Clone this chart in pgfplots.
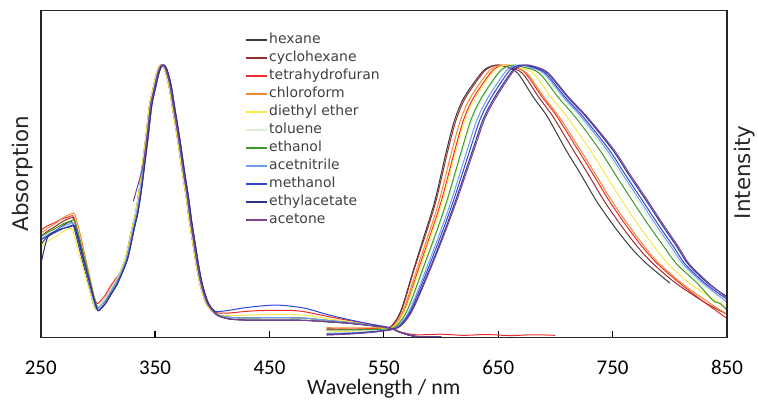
\documentclass[border=0pt]{standalone}
\usepackage{pgfplots}
\pgfplotsset{compat=1.18}
\usepackage{fontspec}
\setmainfont{DejaVu Sans}
\newfontfamily\calib{Carlito}
\definecolor{hexcol}{HTML}{3B3B3B}
\definecolor{cyccol}{HTML}{9A2E2E}
\definecolor{thfcol}{HTML}{EE2A2A}
\definecolor{chlcol}{HTML}{F2892E}
\definecolor{ethcol}{HTML}{F7E94A}
\definecolor{tolcol}{HTML}{DDEFD4}
\definecolor{etohcol}{HTML}{3F9A2E}
\definecolor{mecncol}{HTML}{6E9CF2}
\definecolor{meohcol}{HTML}{2F45DA}
\definecolor{etoaccol}{HTML}{30308E}
\definecolor{acetcol}{HTML}{7A4290}

\begin{document}
\begin{tikzpicture}
\useasboundingbox (-40.7bp,-72.5bp) rectangle (717.3bp,337.5bp);
\begin{axis}[
  scale only axis, width=686.3bp, height=327bp,
  xmin=250, xmax=850, ymin=0, ymax=1.2,
  xtick={250,350,450,550,650,750,850}, ytick=\empty,
  xtick pos=bottom, tick align=inside, major tick length=6bp,
  axis line style={draw=none},
  tick style={line width=1.2bp, black},
  /pgf/number format/assume math mode=true,
  xticklabel style={font=\calib\fontsize{21}{21}\selectfont, inner sep=0pt, yshift=-23bp},
  every axis plot/.append style={line width=1.0bp, smooth},
  legend style={at={(0.2977,0.936)}, anchor=north west, draw=none, fill=none,
    inner sep=0pt, font=\fontsize{14}{16}\selectfont, text=black!75,
    row sep=1.5bp, column sep=0bp,
    nodes={inner sep=1.5bp, text height=10.5bp, text depth=3bp}},
  legend cell align=left,
  legend image code/.code={\draw[#1, line width=1.5bp] (0bp,0bp) -- (21bp,0bp);},
]
% ---- hexane
\addplot[hexcol, forget plot] coordinates {
(250,.340)(255,.366)(261,.383)(267,.404)(273,.420)(277,.425)(279,.405)(283,.340)(287,.273)(291,.207)(295,.140)(298,.105)(301,.113)(305,.133)(310,.168)(315,.203)
(320,.245)(324,.29)(327,.345)(330,.405)(333,.46)(336,.54)(339,.64)(342,.74)(345,.85)(348,.91)(351,.965)(353,.99)(355,1)(357,.995)(359,.975)(362,.925)(365,.847)(368,.77)(371,.688)(374,.6)(377,.52)(380,.425)(383,.345)(386,.265)(389,.2)(392,.155)(395,.122)(399,.1)
(405,.08)(415,.068)(430,.064)(456,.064)(480,.063)(500,.058)(520,.052)(540,.043)(555,.035)(565,.018)(578,.004)(600,.002)};
\addplot[hexcol] coordinates {
(500,.030)(525,.028)(545,.033)(556,.04)(565,.10)(576,.25)(585,.37)(594.5,.50)(605,.69)(612,.80)(620,.88)(635,.97)(642,.993)(649,1)
(657,.993)(667,.97)(681,.88)(693,.81)(709,.69)(722,.60)(736,.50)(751,.41)(766,.33)(780,.27)(800,.20)};
\addlegendentry{hexane}
% ---- cyclohexane
\addplot[cyccol, forget plot] coordinates {
(250,.370)(256,.391)(262,.405)(268,.423)(274,.435)(278,.44)(280,.42)(284,.355)(288,.285)(292,.215)(296,.145)(299,.11)(302,.118)(306,.138)(311,.173)(316,.208)
(321,.245)(325,.29)(328,.345)(331,.405)(334,.46)(337,.54)(340,.64)(343,.74)(346,.85)(349,.91)(352,.965)(354,.99)(356,1)(358,.995)(360,.975)(363,.925)(366,.847)(369,.77)(372,.688)(375,.6)(378,.52)(381,.425)(384,.345)(387,.265)(390,.2)(393,.155)(396,.122)(400,.1)
(405,.083)(415,.074)(430,.072)(456,.073)(480,.071)(500,.063)(520,.055)(540,.044)(555,.035)(565,.018)(578,.004)(600,.002)};
\addplot[cyccol] coordinates {
(500,.032)(525,.030)(545,.034)(556.4,.04)(565.5,.10)(576.5,.25)(585.9,.37)(595.5,.50)(606.2,.69)(613.3,.80)(621.4,.88)(636.4,.97)(643.3,.993)(650.3,1)
(658.3,.993)(671,.97)(685.7,.88)(698,.81)(715.3,.69)(728.5,.60)(742.8,.50)(757.6,.41)(772.3,.33)(785.6,.27)(805.1,.20)(830,.13)(850,.085)};
\addlegendentry{cyclohexane}
% ---- tetrahydrofuran
\addplot[thfcol, forget plot] coordinates {
(250,.394)(256,.410)(262,.421)(268,.434)(274,.442)(278,.447)(280,.427)(284,.362)(288,.295)(292,.227)(296,.16)(299,.125)(302,.133)(306,.153)(311,.188)(316,.218)
(321,.245)(325,.29)(328,.345)(331,.405)(334,.46)(337,.54)(340,.64)(343,.74)(346,.85)(349,.91)(352,.965)(354,.99)(356,1)(358,.995)(360,.975)(363,.925)(366,.847)(369,.77)(372,.688)(375,.6)(378,.52)(381,.425)(384,.345)(387,.265)(390,.2)(393,.155)(396,.122)(400,.1)
(405,.09)(415,.09)(425,.094)(438,.098)(456,.10)(470,.099)(480,.095)(500,.078)(520,.062)(540,.047)(555,.036)(565,.02)(578,.01)(600,.012)(620,.008)(640,.011)(660,.007)(680,.01)(700,.008)};
\addplot[thfcol] coordinates {
(500,.030)(525,.031)(545,.034)(558.4,.04)(568,.10)(580.2,.25)(590.1,.37)(600.2,.50)(612.2,.69)(619.8,.80)(628.4,.88)(643.1,.97)(649.8,.993)(656.8,1)
(664.8,.993)(673.8,.97)(688.8,.88)(701.5,.81)(719.5,.69)(732.8,.60)(747.3,.50)(762,.41)(776.5,.33)(789.3,.27)(808.5,.20)(830,.13)(850,.07)};
\addlegendentry{tetrahydrofuran}
% ---- chloroform
\addplot[chlcol, forget plot] coordinates {
(250,.382)(257,.404)(263,.419)(269,.438)(275,.451)(279,.456)(281,.436)(285,.371)(289,.296)(293,.220)(297,.145)(300,.11)(303,.118)(307,.138)(312,.173)(317,.208)
(322,.245)(326,.29)(329,.345)(332,.405)(335,.46)(338,.54)(341,.64)(344,.74)(347,.85)(350,.91)(353,.965)(355,.99)(357,1)(359,.995)(361,.975)(364,.925)(367,.847)(370,.77)(373,.688)(376,.6)(379,.52)(382,.425)(385,.345)(388,.265)(391,.2)(394,.155)(397,.122)(401,.1)
(405,.083)(415,.074)(430,.072)(456,.073)(480,.071)(500,.063)(520,.055)(540,.044)(555,.035)(565,.018)(578,.004)(600,.002)};
\addplot[chlcol] coordinates {
(500,.036)(525,.035)(545,.036)(557.6,.04)(567,.10)(578.8,.25)(588.4,.37)(598.3,.50)(609.8,.69)(617.2,.80)(625.6,.88)(640.4,.97)(647.2,.993)(654.2,1)
(662.2,.993)(675.1,.97)(690.3,.88)(703.2,.81)(721.6,.69)(734.9,.60)(749.5,.50)(764.2,.41)(778.6,.33)(791.1,.27)(810.2,.20)(830,.14)(850,.085)};
\addlegendentry{chloroform}
% ---- diethyl ether
\addplot[ethcol, forget plot] coordinates {
(250,.33)(255,.351)(261,.365)(267,.383)(273,.395)(277,.40)(279,.38)(283,.315)(287,.257)(291,.198)(295,.14)(298,.105)(301,.113)(305,.133)(310,.168)(315,.203)
(320,.245)(324,.29)(327,.345)(330,.405)(333,.46)(336,.54)(339,.64)(342,.74)(345,.85)(348,.91)(351,.965)(353,.99)(355,1)(357,.995)(359,.975)(362,.925)(365,.847)(368,.77)(371,.688)(374,.6)(377,.52)(380,.425)(383,.345)(386,.265)(389,.2)(392,.155)(395,.122)(399,.1)
(405,.085)(415,.08)(430,.082)(456,.085)(480,.082)(500,.07)(520,.058)(540,.045)(555,.035)(565,.018)(578,.004)(600,.002)};
\addplot[ethcol] coordinates {
(500,.020)(525,.024)(548,.032)(558.8,.04)(568.5,.10)(581.2,.25)(591,.37)(601.2,.50)(613.4,.69)(621.1,.80)(629.8,.88)(644.5,.97)(651.3,.993)(658.1,1)
(666,.993)(680.5,.97)(696.5,.88)(710.2,.81)(730,.69)(743.5,.60)(758.5,.50)(773,.41)(787,.33)(798.5,.27)(817,.20)(835,.15)(850,.11)};
\addlegendentry{diethyl ether}
% ---- toluene
\addplot[tolcol, forget plot] coordinates {
(289,.26)(292,.215)(296,.145)(299,.11)(302,.118)(306,.138)(311,.173)(316,.208)
(321,.245)(325,.29)(328,.345)(331,.405)(334,.46)(337,.54)(340,.64)(343,.74)(346,.85)(349,.91)(352,.965)(354,.99)(356,1)(358,.995)(360,.975)(363,.925)(366,.847)(369,.77)(372,.688)(375,.6)(378,.52)(381,.425)(384,.345)(387,.265)(390,.2)(393,.155)(396,.122)(400,.1)
(405,.083)(415,.074)(430,.072)(456,.073)(480,.071)(500,.063)(520,.055)(540,.044)(555,.035)(565,.018)(578,.004)(600,.002)};
\addplot[tolcol] coordinates {
(500,.025)(525,.026)(550,.030)(560.8,.04)(571,.10)(584.7,.25)(595.2,.37)(605.9,.50)(619.4,.69)(627.6,.80)(636.8,.88)(651.2,.97)(658,.993)(664.6,1)
(672.6,.993)(688.6,.97)(705.8,.88)(720.7,.81)(742.6,.69)(756.4,.60)(772,.50)(786.2,.41)(799.6,.33)(809.6,.27)(827.2,.20)(850,.13)};
\addlegendentry{toluene}
% ---- ethanol
\addplot[etohcol, forget plot] coordinates {
(250,.37)(257,.388)(263,.40)(269,.416)(275,.426)(279,.431)(281,.411)(285,.346)(289,.278)(293,.211)(297,.143)(300,.108)(303,.116)(307,.136)(312,.171)(317,.206)
(322,.245)(326,.29)(329,.345)(332,.405)(335,.46)(338,.54)(341,.64)(344,.74)(347,.85)(350,.91)(353,.965)(355,.99)(357,1)(359,.995)(361,.975)(364,.925)(367,.847)(370,.77)(373,.688)(376,.6)(379,.52)(382,.425)(385,.345)(388,.265)(391,.2)(394,.155)(397,.122)(401,.1)
(405,.083)(415,.074)(430,.072)(456,.073)(480,.071)(500,.063)(520,.055)(540,.044)(555,.035)(565,.018)(578,.004)(600,.002)};
\addplot[etohcol] coordinates {
(500,.028)(525,.028)(550,.031)(560.4,.04)(570.5,.10)(583.9,.25)(594.4,.37)(605,.50)(618.2,.69)(626.3,.80)(635.4,.88)(649.9,.97)(656.5,.993)(663.3,1)
(671.3,.993)(685.9,.97)(702.7,.88)(717.2,.81)(738.4,.69)(752.1,.60)(767.5,.50)(781.8,.41)(795.4,.33)(805.9,.27)(823.8,.20)(838,.135)(844,.125)(850,.10)};
\addlegendentry{ethanol}
% ---- acetonitrile
\addplot[mecncol, forget plot] coordinates {
(250,.36)(256,.378)(262,.39)(268,.405)(274,.415)(278,.42)(280,.40)(284,.335)(288,.27)(292,.205)(296,.14)(299,.105)(302,.113)(306,.133)(311,.168)(316,.203)
(321,.245)(325,.29)(328,.345)(331,.405)(334,.46)(337,.54)(340,.64)(343,.74)(346,.85)(349,.91)(352,.965)(354,.99)(356,1)(358,.995)(360,.975)(363,.925)(366,.847)(369,.77)(372,.688)(375,.6)(378,.52)(381,.425)(384,.345)(387,.265)(390,.2)(393,.155)(396,.122)(400,.1)
(405,.083)(415,.074)(430,.072)(456,.073)(480,.071)(500,.063)(520,.055)(540,.044)(555,.035)(565,.018)(578,.004)(600,.002)};
\addplot[mecncol] coordinates {
(500,.015)(525,.018)(550,.026)(562,.04)(572.5,.10)(586.9,.25)(597.8,.37)(608.8,.50)(623,.69)(631.5,.80)(641,.88)(655.3,.97)(661.5,.993)(668.5,1)
(676.5,.993)(690,.97)(707.4,.88)(722.5,.81)(744.7,.69)(758.6,.60)(774.3,.50)(788.4,.41)(801.7,.33)(811.5,.27)(828.9,.20)(850,.13)};
\addlegendentry{acetnitrile}
% ---- methanol
\addplot[meohcol, forget plot] coordinates {
(250,.358)(257,.375)(263,.386)(269,.399)(275,.408)(279,.413)(281,.393)(285,.328)(289,.264)(293,.199)(297,.135)(300,.10)(303,.108)(307,.128)(312,.163)(317,.198)
(322,.245)(326,.29)(329,.345)(332,.405)(335,.46)(338,.54)(341,.64)(344,.74)(347,.85)(350,.91)(353,.965)(355,.99)(357,1)(359,.995)(361,.975)(364,.925)(367,.847)(370,.77)(373,.688)(376,.6)(379,.52)(382,.425)(385,.345)(388,.265)(391,.2)(394,.155)(397,.122)(401,.1)
(405,.095)(415,.10)(430,.11)(456,.119)(480,.108)(500,.085)(520,.065)(540,.048)(555,.036)(565,.018)(578,.004)(600,.002)};
\addplot[meohcol] coordinates {
(500,.012)(525,.016)(550,.026)(562.8,.04)(573.5,.10)(588.4,.25)(599.5,.37)(610.7,.50)(625.4,.69)(634.1,.80)(643.8,.88)(658,.97)(664,.993)(671.1,1)
(679,.993)(691.3,.97)(708.9,.88)(724.2,.81)(746.8,.69)(760.7,.60)(776.5,.50)(790.6,.41)(803.8,.33)(813.3,.27)(830.6,.20)(850,.14)};
\addlegendentry{methanol}
% ---- ethylacetate
\addplot[etoaccol, forget plot] coordinates {
(251,.285)(254,.34)(257,.375)(263,.39)(269,.40)(275,.405)(279,.41)(281,.39)(285,.325)(289,.261)(293,.197)(297,.133)(300,.098)(303,.106)(307,.126)(312,.161)(317,.196)
(322,.245)(326,.29)(329,.345)(332,.405)(335,.46)(338,.54)(341,.64)(344,.74)(347,.85)(350,.91)(353,.965)(355,.99)(357,1)(359,.995)(361,.975)(364,.925)(367,.847)(370,.77)(373,.688)(376,.6)(379,.52)(382,.425)(385,.345)(388,.265)(391,.2)(394,.155)(397,.122)(401,.1)
(405,.08)(415,.068)(430,.064)(456,.064)(480,.063)(500,.058)(520,.052)(540,.043)(555,.035)(565,.018)(578,.004)(600,.002)};
\addplot[etoaccol] coordinates {
(500,.010)(525,.015)(550,.025)(563.6,.04)(574.5,.10)(589.9,.25)(601.2,.37)(612.5,.50)(627.8,.69)(636.7,.80)(646.6,.88)(660.7,.97)(667,.993)(673.7,1)
(681.7,.993)(693.2,.97)(711.1,.88)(726.7,.81)(749.7,.69)(763.7,.60)(779.7,.50)(793.7,.41)(806.7,.33)(815.9,.27)(833,.20)(850,.15)};
\addlegendentry{ethylacetate}
% ---- acetone
\addplot[acetcol, forget plot] coordinates {
(331,.50)(334,.545)(337,.59)(340,.645)(343,.74)(346,.85)(349,.91)(352,.965)(354,.99)(356,1)(358,.995)(360,.975)(363,.925)(366,.847)(369,.77)(372,.688)(375,.6)(378,.52)(381,.425)(384,.345)(387,.265)(390,.2)(393,.155)(396,.122)(400,.1)
(405,.08)(415,.068)(430,.064)(456,.064)(480,.063)(500,.058)(520,.052)(540,.043)(555,.035)(565,.018)(578,.004)(600,.002)};
\addplot[acetcol] coordinates {
(500,.009)(525,.014)(550,.024)(564,.04)(575,.10)(590.6,.25)(602,.37)(613.5,.50)(629,.69)(638,.80)(648,.88)(662,.97)(668,.993)(675,1)
(683,.993)(694,.97)(712,.88)(727.7,.81)(751,.69)(765,.60)(781,.50)(795,.41)(808,.33)(817,.27)(834,.20)(850,.145)};
\addlegendentry{acetone}
\end{axis}
% frame and axis titles (axis box is 686.3bp x 327bp at the origin)
\draw[line width=1.6bp, black!85] (0,0) rectangle (686.3bp,327bp);
\node[rotate=90, anchor=base, font=\fontsize{21.5}{22}\selectfont, text=black!85]
  at (-12.4bp,164bp) {Absorption};
\node[rotate=90, anchor=base, font=\fontsize{21.5}{22}\selectfont, text=black!85]
  at (709.3bp,165bp) {Intensity};
\node[anchor=base, font=\calib\fontsize{22}{23}\selectfont, text=black!90]
  at (343.1bp,-57bp) {Wavelength / nm};
\end{tikzpicture}
\end{document}
